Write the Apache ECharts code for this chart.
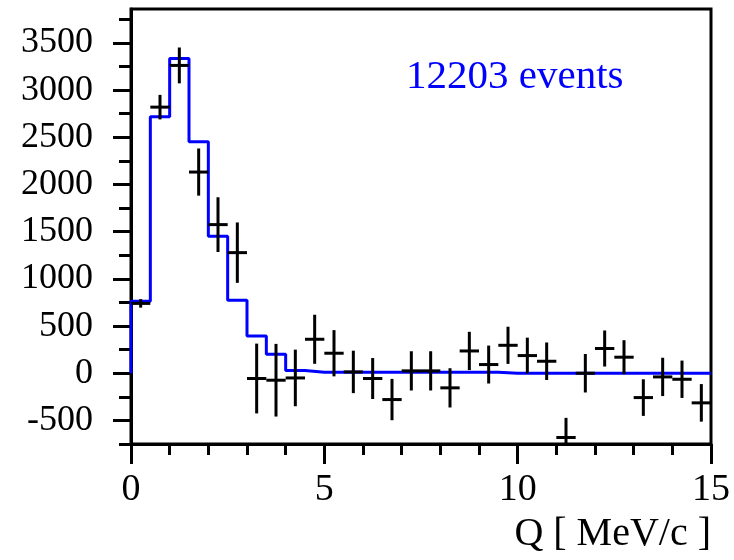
<!DOCTYPE html>
<html>
<head>
<meta charset="utf-8">
<script src="https://cdn.jsdelivr.net/npm/echarts@6/dist/echarts.min.js"></script>
<style>
  html, body { margin: 0; padding: 0; background: #fff; }
  #chart { width: 734px; height: 560px; }
</style>
</head>
<body>
<div id="chart"></div>
<script>
const binWidth = 0.5;
const binCenters = [
  0.25, 0.75, 1.25, 1.75, 2.25, 2.75, 3.25, 3.75, 4.25, 4.75,
  5.25, 5.75, 6.25, 6.75, 7.25, 7.75, 8.25, 8.75, 9.25, 9.75,
  10.25, 10.75, 11.25, 11.75, 12.25, 12.75, 13.25, 13.75, 14.25, 14.75,
];
// measured yields per bin and their errors
const counts = [
  740, 2820, 3262, 2132, 1575, 1278, -56, -74, -50, 360,
  212, 14, -56, -279, 25, 25, -155, 236, 92, 296,
  187, 127, -681, 0, 262, 170, -258, -39, -64, -314,
];
const errors = [
  45, 130, 190, 250, 290, 320, 370, 385, 300, 260,
  245, 225, 217, 219, 208, 208, 208, 203, 201, 197,
  190, 199, 208, 204, 191, 180, 194, 203, 198, 199,
];
// fitted histogram (blue)
const fitValues = [
  762, 2718, 3336, 2454, 1451, 773, 395, 201, 28, 10,
  10, 10, 10, 10, 10, 10, 10, 10, 10, 0,
  0, 0, 0, 0, 0, 0, 0, 0, 0, 0,
];
const xMajorTicks = [0, 5, 10, 15];
const xMinorTicks = [1, 2, 3, 4, 6, 7, 8, 9, 11, 12, 13, 14];
const yMajorTicks = [-500, 0, 500, 1000, 1500, 2000, 2500, 3000, 3500];
const yMinorTicks = [-750, -250, 250, 750, 1250, 1750, 2250, 2750, 3250, 3750];
const eventsLabel = '12203 events';
const xTitle = 'Q [ MeV/c ]';

const fitLine = [[0, 0]];
binCenters.forEach((c, i) => fitLine.push([c - binWidth / 2, fitValues[i]]));
fitLine.push([15, fitValues[fitValues.length - 1]]);

const points = binCenters.map((c, i) => [c, counts[i], errors[i]]);

const font = 'Liberation Serif, Times New Roman, serif';
const chart = echarts.init(document.getElementById('chart'));

chart.setOption({
  animation: false,
  grid: {
    left: 131, top: 9, width: 580, height: 435,
    show: true, borderColor: '#000', borderWidth: 3,
    containLabel: false,
    outerBoundsMode: 'none',
  },
  xAxis: [
    {
      type: 'value', min: 0, max: 15,
      splitLine: { show: false },
      axisLine: { onZero: false, lineStyle: { color: '#000', width: 3 } },
      axisTick: {
        length: 20, customValues: xMajorTicks,
        lineStyle: { color: '#000', width: 3 },
      },
      axisLabel: {
        customValues: xMajorTicks,
        formatter: (v) => String(v),
        color: '#000', fontFamily: font, fontSize: 38, margin: 27,
      },
      name: xTitle,
      nameLocation: 'end',
      nameGap: 0,
      nameTextStyle: {
        color: '#000', fontFamily: font, fontSize: 40,
        align: 'right', verticalAlign: 'top', padding: [70, 0, 0, 0],
      },
    },
    {
      type: 'value', min: 0, max: 15, position: 'bottom',
      splitLine: { show: false },
      axisLine: { show: false, onZero: false },
      axisLabel: { show: false },
      axisTick: {
        length: 11, customValues: xMinorTicks,
        lineStyle: { color: '#000', width: 3 },
      },
    },
  ],
  yAxis: [
    {
      type: 'value', min: -750, max: 3860,
      splitLine: { show: false },
      axisLine: { onZero: false, lineStyle: { color: '#000', width: 3 } },
      axisTick: {
        length: 18, customValues: yMajorTicks,
        lineStyle: { color: '#000', width: 3 },
      },
      axisLabel: {
        customValues: yMajorTicks,
        formatter: (v) => String(v),
        color: '#000', fontFamily: font, fontSize: 36, margin: 38,
      },
    },
    {
      type: 'value', min: -750, max: 3860, position: 'left',
      splitLine: { show: false },
      axisLine: { show: false, onZero: false },
      axisLabel: { show: false },
      axisTick: {
        length: 12, customValues: yMinorTicks,
        lineStyle: { color: '#000', width: 3 },
      },
    },
  ],
  graphic: [
    {
      type: 'text', x: 406, y: 77,
      style: {
        text: eventsLabel, fill: '#0000ff', fontFamily: font, fontSize: 41,
        verticalAlign: 'middle',
      },
    },
  ],
  series: [
    {
      type: 'line',
      data: fitLine,
      step: 'end',
      showSymbol: false,
      lineStyle: { color: '#0000ff', width: 3 },
      z: 2,
    },
    {
      type: 'custom',
      data: points,
      clip: true,
      z: 3,
      renderItem(params, api) {
        const x = api.value(0), y = api.value(1), e = api.value(2);
        const top = api.coord([x, y + e]);
        const bot = api.coord([x, y - e]);
        const l = api.coord([x - binWidth / 2, y]);
        const r = api.coord([x + binWidth / 2, y]);
        return {
          type: 'group',
          children: [
            { type: 'line', shape: { x1: top[0], y1: top[1], x2: bot[0], y2: bot[1] },
              style: { stroke: '#000', lineWidth: 3 } },
            { type: 'line', shape: { x1: l[0], y1: l[1], x2: r[0], y2: r[1] },
              style: { stroke: '#000', lineWidth: 3 } },
          ],
        };
      },
    },
  ],
});
</script>
</body>
</html>
